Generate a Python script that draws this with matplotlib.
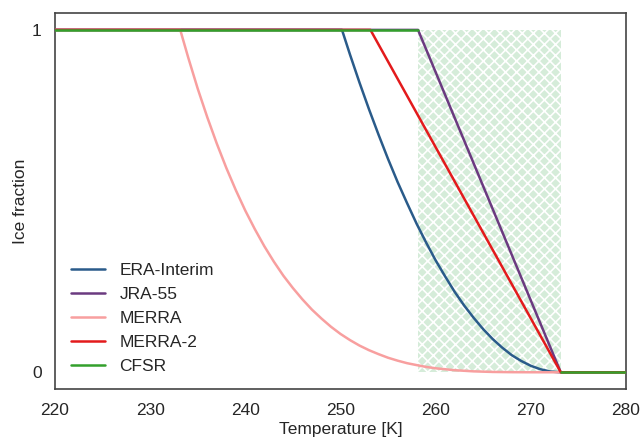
import numpy as np
import matplotlib
matplotlib.use("Agg")
import matplotlib.pyplot as plt
import seaborn as sns

sns.set_style("white")
plt.rcParams["font.family"] = ["Liberation Sans", "DejaVu Sans"]
plt.rcParams["hatch.linewidth"] = 1.2

# values
era_t = [220, 250.16, 251, 252, 253, 254, 255, 256, 257, 258, 259, 260, 261, 262,
         263, 264, 265, 266, 267, 268, 269, 270, 271, 272, 273, 273.16, 280]
era_f = [1, 1, 0.928, 0.846, 0.768, 0.694, 0.623, 0.556, 0.494, 0.434, 0.379, 0.327,
         0.280, 0.235, 0.195, 0.159, 0.126, 0.097, 0.072, 0.050, 0.033, 0.019, 0.009,
         0.0025, 0.0001, 0, 0]

jra_t = [220, 258.15, 273.15, 280]
jra_f = [1, 1, 0, 0]

merra_t = [220, 233.16, 234, 235, 236, 237, 238, 239, 240, 241, 242, 243, 244, 245,
           246, 247, 248, 249, 250, 251, 252, 253, 254, 255, 256, 257, 258, 259, 260,
           262, 264, 266, 268, 270, 273.16, 280]
merra_f = [1, 1, 0.919, 0.828, 0.745, 0.668, 0.597, 0.532, 0.472, 0.418, 0.368, 0.323,
           0.282, 0.246, 0.213, 0.183, 0.157, 0.133, 0.112, 0.094, 0.078, 0.0645, 0.053,
           0.0425, 0.034, 0.0266, 0.021, 0.0157, 0.0117, 0.0061, 0.0027, 0.001, 0.0003,
           0.00004, 0, 0]

merra2_t = [220, 253.15, 273.15, 280]
merra2_f = [1, 1, 0, 0]

cfsr_t = [220, 258.15, np.nan, 273.15, 280]
cfsr_f = [1, 1, np.nan, 0, 0]
mixed_range = [258.15, 273.15]

fig = plt.figure(figsize=(6.4, 4.41), dpi=100)
ax = fig.add_axes([0.086, 0.117, 0.892, 0.854])

ax.fill_between(mixed_range, 0, 1, facecolor="#d5ecd9", edgecolor="white",
                hatch="xxx", linewidth=0, zorder=1)

lw = 1.8
ax.plot(era_t, era_f, color="#2a5b8a", lw=lw, label="ERA-Interim", zorder=3)
ax.plot(jra_t, jra_f, color="#6b3a80", lw=lw, label="JRA-55", zorder=3)
ax.plot(merra_t, merra_f, color="#f89f9f", lw=lw, label="MERRA", zorder=3)
ax.plot(merra2_t, merra2_f, color="#e31a1c", lw=lw, label="MERRA-2", zorder=3)
ax.plot(cfsr_t, cfsr_f, color="#33a02c", lw=lw, label="CFSR", zorder=4)

ax.set_xlim(220, 280)
ax.set_ylim(-0.05, 1.05)
ax.set_yticks([0, 1])
ax.set_xticks(range(220, 281, 10))
ax.tick_params(labelsize=12.5, colors="#262626", pad=6)
ax.set_xlabel("Temperature [K]", fontsize=12.5, color="#262626", labelpad=3)
ax.set_ylabel("Ice fraction", fontsize=12.5, color="#262626", labelpad=3)

for s in ax.spines.values():
    s.set_color("#444444")
    s.set_linewidth(1.2)

ax.legend(loc="lower left", frameon=False, fontsize=12.5, handlelength=2.0,
          handletextpad=0.8, labelspacing=0.5, bbox_to_anchor=(0.0, 0.0))

fig.savefig("out.png", dpi=100)
